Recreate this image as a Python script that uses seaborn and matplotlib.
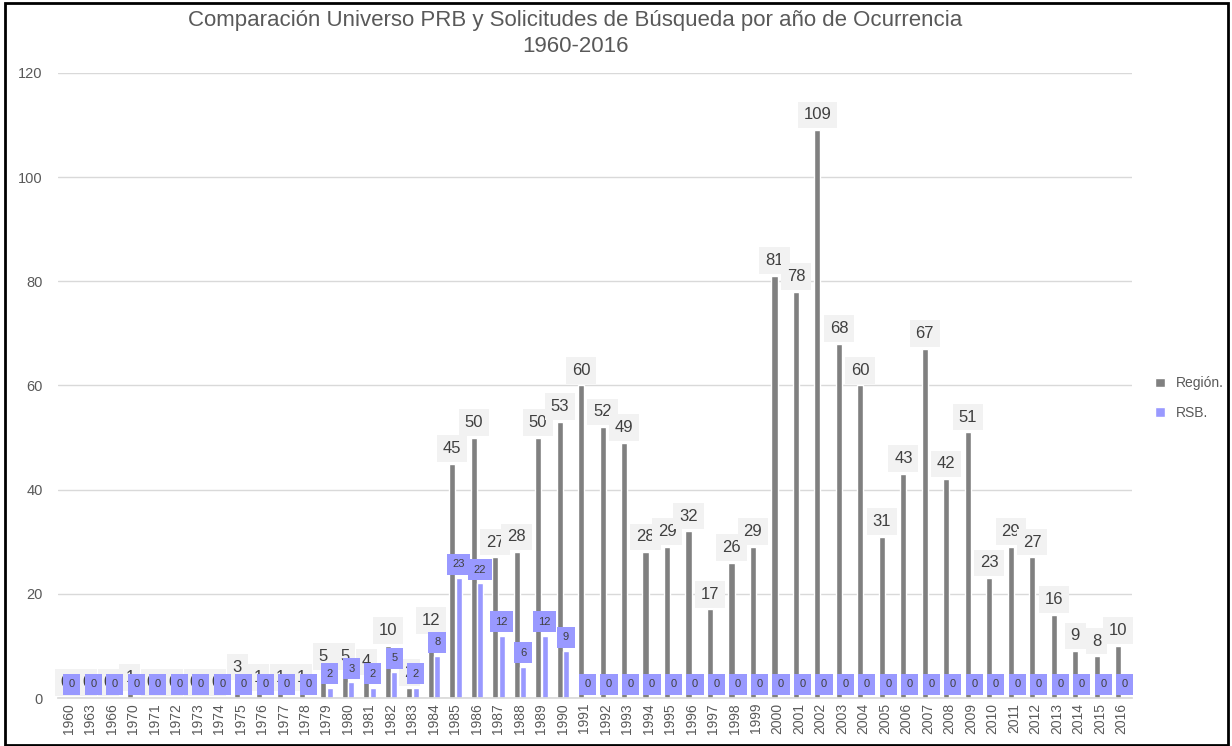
import pandas as pd
import matplotlib.pyplot as plt
import seaborn as sns
from matplotlib.patches import Rectangle

years = ['1960', '1963', '1966', '1970', '1971', '1972', '1973', '1974', '1975', '1976',
         '1977', '1978', '1979', '1980', '1981', '1982', '1983', '1984', '1985', '1986',
         '1987', '1988', '1989', '1990', '1991', '1992', '1993', '1994', '1995', '1996',
         '1997', '1998', '1999', '2000', '2001', '2002', '2003', '2004', '2005', '2006',
         '2007', '2008', '2009', '2010', '2011', '2012', '2013', '2014', '2015', '2016']
region = [0, 0, 0, 1, 0, 0, 0, 0, 3, 1,
          1, 1, 5, 5, 4, 10, 2, 12, 45, 50,
          27, 28, 50, 53, 60, 52, 49, 28, 29, 32,
          17, 26, 29, 81, 78, 109, 68, 60, 31, 43,
          67, 42, 51, 23, 29, 27, 16, 9, 8, 10]
rsb = [0, 0, 0, 0, 0, 0, 0, 0, 0, 0,
       0, 0, 2, 3, 2, 5, 2, 8, 23, 22,
       12, 6, 12, 9, 0, 0, 0, 0, 0, 0,
       0, 0, 0, 0, 0, 0, 0, 0, 0, 0,
       0, 0, 0, 0, 0, 0, 0, 0, 0, 0]
series = ['Región.', 'RSB.']
colors = ['#808080', '#9999ff']

sns.set_theme(style="white")
plt.rcParams['font.family'] = ['Liberation Sans', 'DejaVu Sans']

df = pd.DataFrame({'year': years * 2,
                   'value': region + rsb,
                   'serie': [series[0]] * len(years) + [series[1]] * len(years)})

fig = plt.figure(figsize=(12.32, 7.46), dpi=100)
ax = fig.add_axes([0.047, 0.0643, 0.872, 0.838])
sns.barplot(data=df, x='year', y='value', hue='serie', palette=colors, width=0.6,
            gap=0.05, ax=ax, saturation=1, legend=True)

ax.set_ylim(0, 120)
ax.set_xlim(-0.5, len(years) - 0.5)
ax.set_yticks(range(0, 121, 20))
ax.yaxis.grid(True, color='#d9d9d9', linewidth=1)
ax.set_axisbelow(True)
for s in ['top', 'right', 'left']:
    ax.spines[s].set_visible(False)
ax.spines['bottom'].set_color('#d9d9d9')
ax.tick_params(axis='x', rotation=90, labelsize=10, colors='#595959', length=0)
ax.tick_params(axis='y', labelsize=10.5, colors='#595959', length=0, pad=11)
ax.set_xlabel('')
ax.set_ylabel('')

# etiquetas de datos
for cont, bg, fs, off, pad in zip(ax.containers, ['#f2f2f2', '#9999ff'], [12, 8], [11, 10], [0.35, 0.5]):
    for bar in cont:
        h = bar.get_height()
        ax.annotate(f'{h:.0f}', (bar.get_x() + bar.get_width() / 2, h),
                    xytext=(0, off), textcoords='offset points', ha='center', va='center',
                    fontsize=fs, color='#404040',
                    bbox=dict(boxstyle=f'square,pad={pad}', fc=bg, ec='none'))

leg = ax.legend(loc='center left', bbox_to_anchor=(1.01, 0.48), frameon=False,
                fontsize=10, handlelength=0.7, handleheight=0.7, labelspacing=1.1,
                labelcolor='#595959')

fig.text(0.467, 0.955, 'Comparación Universo PRB y Solicitudes de Búsqueda por año de Ocurrencia\n1960-2016',
         ha='center', va='center', fontsize=16, color='#595959', linespacing=1.35)

fig.patches.append(Rectangle((0.004, 0.002), 0.993, 0.994, transform=fig.transFigure,
                             fill=False, ec='black', lw=2))

fig.savefig('out.png', dpi=100)
